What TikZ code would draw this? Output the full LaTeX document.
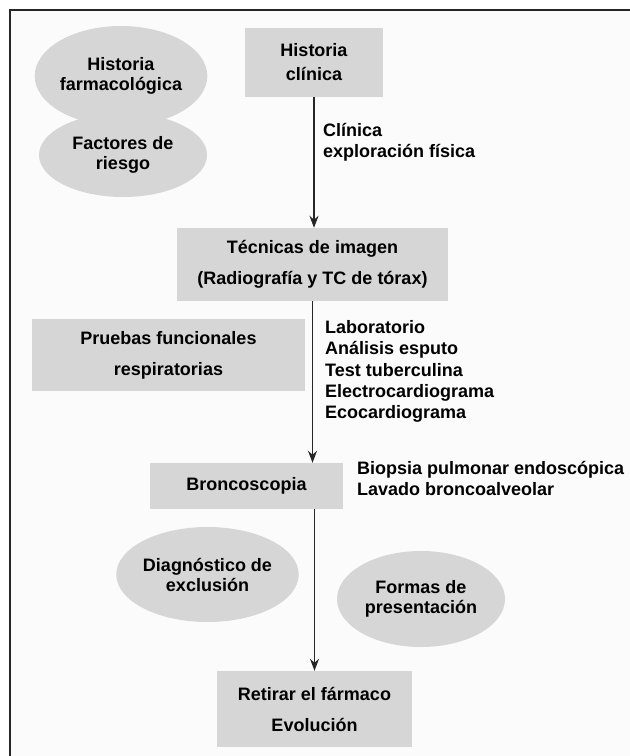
\documentclass[tikz,border=0pt]{standalone}
\usepackage{fontspec}
\setmainfont{Liberation Sans}
\usetikzlibrary{arrows.meta,shapes.geometric}
\definecolor{boxgray}{RGB}{214,214,214}
\definecolor{pagegray}{RGB}{251,251,251}
\begin{document}
\begin{tikzpicture}[
  x=1pt, y=-1pt,
  every node/.style={inner sep=0pt, text=black, font=\bfseries\fontsize{18}{18}\selectfont},
  box/.style={rectangle, fill=boxgray, align=center},
  blob/.style={ellipse, fill=boxgray, align=center},
  note/.style={anchor=west, align=left},
  flow/.style={-{Stealth[length=12pt,width=9pt]}, line width=1.5pt, draw=black!85}
]
  \useasboundingbox (0,0) rectangle (630,756);
  \fill[pagegray] (10,10) rectangle (630,756);
  \draw[line width=2.6pt, black!85] (10,756) -- (10,10) -- (630,10);
  % side topics
  \node[blob, minimum width=145, minimum height=100, font=\bfseries\fontsize{18}{20}\selectfont] (hf) at (121,76) {Historia\\farmacológica};
  \node[blob, minimum width=168, minimum height=84, font=\bfseries\fontsize{18}{20}\selectfont] (fr) at (123,155) {Factores de\\riesgo};
  \node[box, minimum width=273, minimum height=72, font=\bfseries\fontsize{18}{31}\selectfont] (pf) at (168.5,355) {Pruebas funcionales\\respiratorias};
  \node[blob, minimum width=169, minimum height=95, font=\bfseries\fontsize{18}{20}\selectfont] (dx) at (207.5,574.5) {Diagnóstico de\\exclusión};
  \node[blob, minimum width=168, minimum height=96, font=\bfseries\fontsize{18}{20}\selectfont] (fp) at (421,599) {Formas de\\presentación};
  % main steps
  \node[box, minimum width=138, minimum height=69, font=\bfseries\fontsize{18}{24}\selectfont] (hc) at (314,62.5) {Historia\\clínica};
  \node[box, minimum width=271, minimum height=73, font=\bfseries\fontsize{18}{31}\selectfont] (tec) at (312.5,264.5) {Técnicas de imagen\\(Radiografía y TC de tórax)};
  \node[box, minimum width=193, minimum height=46] (br) at (246.5,486) {Broncoscopia};
  \node[box, minimum width=195, minimum height=76, font=\bfseries\fontsize{18}{31}\selectfont] (rf) at (314.5,709) {Retirar el fármaco\\Evolución};
  % notes beside the arrows
  \node[note, font=\bfseries\fontsize{18}{21}\selectfont] (n1) at (323,142.5) {Clínica\\exploración física};
  \node[note, font=\bfseries\fontsize{18}{21.3}\selectfont] (n2) at (325,371.5) {Laboratorio\\Análisis esputo\\Test tuberculina\\Electrocardiograma\\Ecocardiograma};
  \node[note, font=\bfseries\fontsize{18}{21}\selectfont] (n3) at (357,478.5) {Biopsia pulmonar endoscópica\\Lavado broncoalveolar};
  \draw[flow] (hc.south) -- (hc.south |- tec.north);
  \draw[flow] (tec.south) -- (tec.south |- br.north);
  \draw[flow] (rf.north |- br.south) -- (rf.north);
\end{tikzpicture}
\end{document}
